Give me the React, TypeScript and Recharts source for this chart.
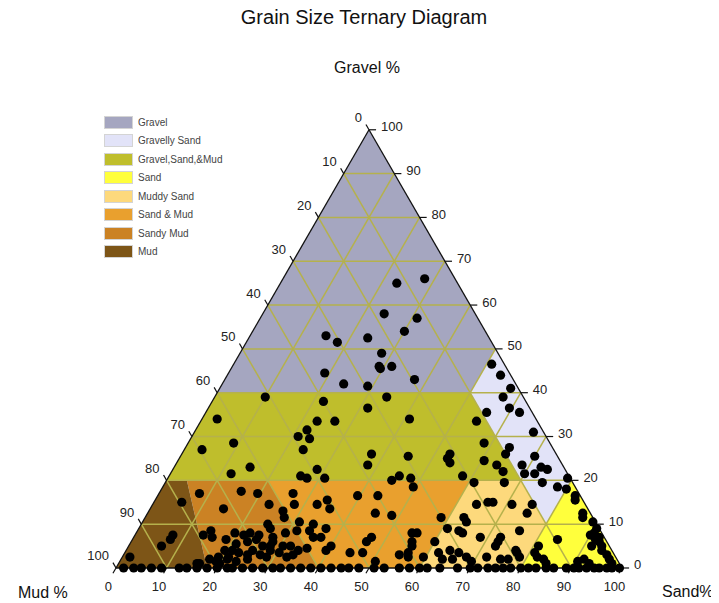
import React from "react";
import { ComposedChart, XAxis, YAxis, Area, Scatter, ReferenceLine } from "recharts";

// classification regions, vertices as [sand %, gravel %]
const regionNames = [
  "Gravel",
  "Gravelly Sand",
  "Gravel,Sand,&Mud",
  "Sand",
  "Muddy Sand",
  "Sand & Mud",
  "Sandy Mud",
  "Mud",
];
const regionColors = ["#a5a6c0", "#e2e3f8", "#bfbe2c", "#ffff3c", "#fdd97c", "#e9a02e", "#cb8224", "#7d5517"];
const regionVertices: [number, number][][] = [
  [[0, 100], [0, 40], [50, 40], [50, 50]],
  [[50, 50], [50, 40], [70, 20], [80, 10], [80, 20]],
  [[0, 40], [0, 20], [70, 20], [50, 40]],
  [[80, 20], [80, 0], [100, 0]],
  [[60, 20], [70, 20], [80, 10], [80, 0], [60, 0]],
  [[20, 20], [60, 20], [60, 0], [40, 0]],
  [[4, 20], [20, 20], [40, 0], [18, 0]],
  [[0, 20], [4, 20], [18, 0], [0, 0]],
];

const axisTicks = [0, 10, 20, 30, 40, 50, 60, 70, 80, 90, 100];

// samples as [sand %, gravel %]
const gravelSamples = [
  [23, 65], [28, 66], [24, 58], [31, 57], [30, 54], [15, 53], [18, 51.5], [23.5, 52.5], [28, 49],
  [29, 46], [29.5, 45.5], [31.5, 46], [19, 44.5], [24, 42], [29, 41.5], [37.5, 43], [51, 46.5],
  [54, 44], [57.5, 41],
];
const gravellySandSamples = [
  [57, 39], [59.5, 36.5], [62, 35.5], [55.5, 35.5], [54.5, 33.5], [67, 31], [58.5, 28.5], [64, 27.5],
  [64, 26], [70, 25.5], [68.5, 23.5], [70, 21.5], [72, 21.5], [72.5, 23], [74, 22.5], [74.5, 19.5],
  [78, 18.5], [79, 20.5], [80, 18], [82.5, 16.5], [83, 15.5], [86, 12.5], [86.5, 11.5],
];
const mixedSamples = [
  [34, 39], [31.5, 36.5], [41, 34], [53, 26], [53, 25], [54, 24], [37.5, 26], [38, 23.5], [45, 25.5],
  [60.5, 24.5], [63.5, 23.5], [65.5, 22], [58, 21], [44.5, 20], [45.5, 21], [48, 20.5], [49.5, 18.5],
  [61, 19.5], [67, 19.5], [10, 39], [22, 38], [3, 34], [23, 33.5], [26.5, 33.5], [22, 31.5], [21, 30],
  [23.5, 29.5], [3.5, 27], [9, 28.5], [23.5, 27], [15, 23], [12, 21.5], [28.5, 22.5], [26, 21],
  [27.5, 20.5], [31, 20.5],
];
const muddySamples = [
  [8, 17], [5.5, 15], [14.5, 13.5], [16, 17.5], [19.5, 17], [23, 14.5], [7.5, 7.5], [7.5, 6.5], [6.5, 5],
  [14.5, 8.5], [13.5, 7.5], [15.5, 7], [19.5, 8], [18.5, 6.5], [22.5, 8], [24.5, 6.5], [19.5, 4], [21, 4],
  [21, 2.5], [21, 5.5], [22.5, 3.5], [24.5, 3], [25, 4], [26.5, 5], [26, 9], [27.5, 7], [28, 5], [1.5, 2.5],
  [17.5, 2], [19, 1.5], [20, 1], [16, 1], [26.5, 17], [28, 14.5], [39.5, 16.5], [43.5, 16.5], [32.5, 14.5],
  [34, 15.5], [35.5, 13.5], [45, 12.5], [48.5, 12], [26.5, 13], [27.5, 11.5], [31, 10.5], [34, 10], [37, 9],
  [25, 10], [29.5, 8], [31.5, 8.5], [34, 8.5], [35.5, 7], [37, 7], [40, 5], [24.5, 7.5], [28, 6], [30.5, 5],
  [32, 5], [34, 4], [35.5, 4.5], [28.5, 4], [30.5, 3.5], [32.5, 2.5], [33.5, 3], [47, 7], [46.5, 6],
  [47, 3.5], [44.5, 3.5], [54.5, 8], [55.5, 8], [55.5, 6], [56, 5], [54.5, 3], [56, 3.5], [56.5, 2.5],
  [59.5, 2.5], [60, 6], [50.5, 1.5], [39.5, 4], [21.5, 7.5], [23, 6], [27, 3], [28.5, 2.5], [19, 2.5],
  [21, 2], [23, 1.5], [25, 2], [15.5, 1],
];
const sandySamples = [
  [64, 14.5], [66, 15], [67, 15], [71, 14.5], [75, 12.5], [75, 14.5], [58.5, 11.5], [63, 11.5], [64, 10.5],
  [61, 9], [63.5, 8.5], [64.5, 8], [68.5, 7], [72.5, 7], [72.5, 6], [75.5, 8.5], [84, 6.5], [89, 10.5],
  [90.5, 9], [90.5, 8], [92, 7], [91.5, 6.5], [92.5, 6], [93.5, 5], [94, 4], [95.5, 3], [96.5, 2], [97.5, 1],
  [90, 7.5], [91.5, 5], [62, 3.5], [64, 4], [66, 3.5], [63.5, 2], [65.5, 2], [68, 2.5], [69.5, 1.5], [72, 2.5],
  [75, 2], [76.5, 2], [77, 4], [78.5, 2.5], [77.5, 3.5], [81, 5], [81, 3.5], [82, 2.5], [83.5, 2], [84.5, 1],
  [90.5, 1.5], [91.5, 2], [93, 1], [72.5, 5],
];
// samples with no gravel, sand % only
const baseSand = [
  1.5, 3.5, 5, 7, 9, 12.5, 14, 16, 18, 20, 22, 23, 25, 27, 29, 31, 32.5, 34.5, 36.5, 38.5, 40.5, 42.5,
  44.5, 46, 48, 51, 53, 56, 58, 60, 61.5, 64, 67.5, 70, 71.5, 73.5, 75, 76.5, 78, 80, 81.5, 83, 85, 86.5,
  89, 90.5, 91.5, 93, 94.5, 95.5, 97, 98, 99.5,
];

const H = Math.sqrt(3) / 2;
const toXY = (sand: number, gravel: number) => ({ x: sand + gravel / 2, y: gravel * H });

// convex polygon -> range area rows [low, high] at each vertex x
function toBand(poly: [number, number][]) {
  const pts = poly.map(([s, g]) => toXY(s, g));
  const xs = Array.from(new Set(pts.map((p) => +p.x.toFixed(6)))).sort((a, b) => a - b);
  return xs.map((x) => {
    const ys: number[] = [];
    pts.forEach((a, i) => {
      const b = pts[(i + 1) % pts.length];
      if (x < Math.min(a.x, b.x) - 1e-6 || x > Math.max(a.x, b.x) + 1e-6) return;
      if (Math.abs(b.x - a.x) < 1e-9) ys.push(a.y, b.y);
      else ys.push(a.y + ((b.y - a.y) * (x - a.x)) / (b.x - a.x));
    });
    return { x, band: [Math.min(...ys), Math.max(...ys)] };
  });
}

const samples = [...gravelSamples, ...gravellySandSamples, ...mixedSamples, ...muddySamples, ...sandySamples]
  .map(([s, g]) => toXY(s, g))
  .concat(baseSand.map((s) => toXY(s, 0)));

const gridValues = axisTicks.slice(1, -1);
const font = "'Liberation Sans', Arial, sans-serif";
const gridColor = "#b5b14c";

const mudLabels = axisTicks.map((m) => ({ ...toXY(0, 100 - m), label: String(m) }));
const gravelLabels = axisTicks.map((g) => ({ ...toXY(100 - g, g), label: String(g) }));
const sandLabels = axisTicks.map((s) => ({ ...toXY(s, 0), label: String(s) }));

const labelShape = (dx: number, dy: number, anchor: string) => (p: any) => (
  <text x={p.cx + dx} y={p.cy + dy} textAnchor={anchor} fontSize={13} fontFamily={font} fill="#222">
    {p.payload.label}
  </text>
);

const dot = (p: any) => <circle cx={p.cx} cy={p.cy} r={4.6} fill="#000" />;

export default function App() {
  const seg = (a: { x: number; y: number }, b: { x: number; y: number }) => [a, b];
  return (
    <div style={{ position: "relative", width: 711, height: 595, fontFamily: font }}>
      <ComposedChart width={711} height={595} margin={{ top: 0, right: 0, bottom: 0, left: 0 }}>
        <XAxis dataKey="x" type="number" domain={[-21.34, 119.17]} allowDataOverflow hide />
        <YAxis dataKey="y" type="number" domain={[-6.92, 110.67]} allowDataOverflow hide />
        {regionVertices.map((poly, i) => (
          <Area
            key={regionNames[i]}
            data={toBand(poly)}
            dataKey="band"
            type="linear"
            stroke="none"
            fill={regionColors[i]}
            fillOpacity={1}
            dot={false}
            activeDot={false}
            isAnimationActive={false}
          />
        ))}
        {gridValues.map((v) => (
          <ReferenceLine key={"g" + v} segment={seg(toXY(0, v), toXY(100 - v, v))} stroke={gridColor} strokeWidth={1.5} ifOverflow="visible" />
        ))}
        {gridValues.map((v) => (
          <ReferenceLine key={"s" + v} segment={seg(toXY(v, 0), toXY(v, 100 - v))} stroke={gridColor} strokeWidth={1.5} ifOverflow="visible" />
        ))}
        {gridValues.map((v) => (
          <ReferenceLine key={"m" + v} segment={seg(toXY(100 - v, 0), toXY(0, 100 - v))} stroke={gridColor} strokeWidth={1.5} ifOverflow="visible" />
        ))}
        <ReferenceLine segment={seg(toXY(0, 0), toXY(0, 100))} stroke="#111" strokeWidth={1.3} ifOverflow="visible" />
        <ReferenceLine segment={seg(toXY(100, 0), toXY(0, 100))} stroke="#111" strokeWidth={1.3} ifOverflow="visible" />
        <ReferenceLine segment={seg(toXY(0, 0), toXY(100, 0))} stroke="#111" strokeWidth={1.3} ifOverflow="visible" />
        {axisTicks.map((v) => {
          const p = toXY(100 - v, v);
          return <ReferenceLine key={"tg" + v} segment={seg(p, { x: p.x + 1.4, y: p.y })} stroke="#111" strokeWidth={1.2} ifOverflow="visible" />;
        })}
        {axisTicks.map((v) => {
          const p = toXY(0, 100 - v);
          return <ReferenceLine key={"tm" + v} segment={seg(p, { x: p.x - 0.6, y: p.y + 1.05 })} stroke="#111" strokeWidth={1.2} ifOverflow="visible" />;
        })}
        {axisTicks.map((v) => {
          const p = toXY(v, 0);
          return <ReferenceLine key={"ts" + v} segment={seg(p, { x: p.x - 0.6, y: p.y - 1.05 })} stroke="#111" strokeWidth={1.2} ifOverflow="visible" />;
        })}
        <Scatter data={samples} shape={dot} isAnimationActive={false} />
        <Scatter data={mudLabels} shape={labelShape(-7, -7.5, "end")} isAnimationActive={false} />
        <Scatter data={gravelLabels} shape={labelShape(12, 1.5, "start")} isAnimationActive={false} />
        <Scatter data={sandLabels} shape={labelShape(-7.5, 23.5, "middle")} isAnimationActive={false} />
      </ComposedChart>

      <div style={{ position: "absolute", left: 0, width: 712, top: -3, textAlign: "center", fontSize: 20, lineHeight: "24px", color: "#111" }}>
        Grain Size Ternary Diagram
      </div>
      <div style={{ position: "absolute", left: 0, width: 718, top: 51, textAlign: "center", fontSize: 16, lineHeight: "18px", color: "#111" }}>
        Gravel %
      </div>
      <div style={{ position: "absolute", left: 10, top: 576, fontSize: 16, lineHeight: "18px", color: "#111" }}>Mud %</div>
      <div style={{ position: "absolute", left: 654, top: 575, fontSize: 16, lineHeight: "18px", color: "#111" }}>Sand%</div>

      <div style={{ position: "absolute", left: 96, top: 105 }}>
        {regionNames.map((name, i) => (
          <div key={name} style={{ display: "flex", alignItems: "center", height: 18.5 }}>
            <div style={{ width: 27, height: 11, background: regionColors[i], border: "1px solid #d4d4d4" }} />
            <span style={{ marginLeft: 5, fontSize: 10, color: "#444" }}>{name}</span>
          </div>
        ))}
      </div>
    </div>
  );
}
